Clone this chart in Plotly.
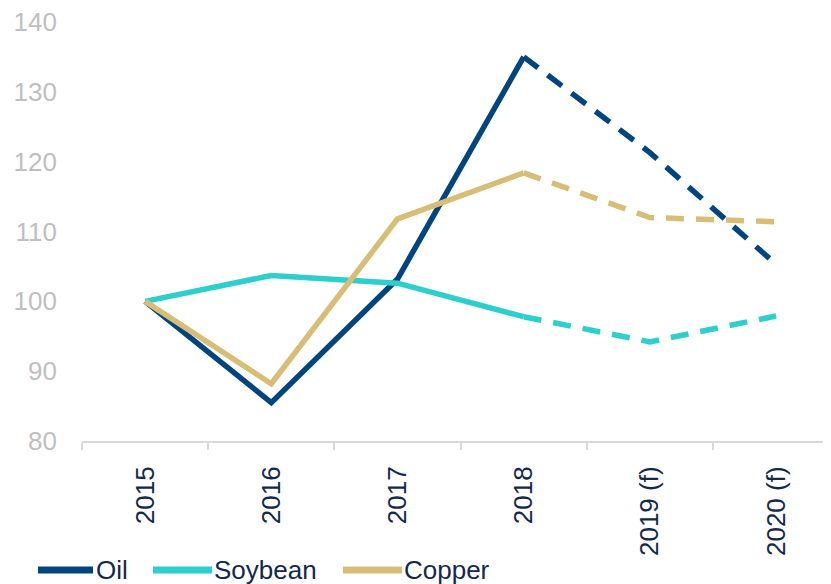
import plotly.graph_objects as go

categories = ["2015", "2016", "2017", "2018", "2019 (f)", "2020 (f)"]
oil = [100, 85.5, 103.2, 135, 121.3, 105.3]
soybean = [100, 103.7, 102.6, 97.8, 94.2, 97.9]
copper = [100, 88.2, 111.8, 118.4, 112, 111.4]

series_names = ["Oil", "Soybean", "Copper"]
series_values = [oil, soybean, copper]
series_colors = ["#00457f", "#2dcfcd", "#d8bd76"]
n_actual = 4  # 2015-2018 actual, rest forecast

fig = go.Figure()
for name, vals, color in zip(series_names, series_values, series_colors):
    fig.add_trace(go.Scatter(
        x=categories[:n_actual], y=vals[:n_actual], mode="lines", name=name,
        legendgroup=name, showlegend=False, line=dict(color=color, width=5.5),
    ))
    fig.add_trace(go.Scatter(
        x=categories[n_actual - 1:], y=vals[n_actual - 1:], mode="lines", name=name + " (f)",
        legendgroup=name, showlegend=False,
        line=dict(color=color, width=5.5, dash="18px,12px"),
    ))

# Legend drawn below the plot (long line keys as in the reference)
legend_line_x = [(-0.0587, 0.0147), (0.0948, 0.1736), (0.3485, 0.4272)]
legend_text_x = [0.0175, 0.1755, 0.4290]
legend_y = -0.308
for name, color, (x0, x1), tx in zip(series_names, series_colors, legend_line_x, legend_text_x):
    fig.add_shape(type="line", xref="paper", yref="paper", x0=x0, x1=x1, y0=legend_y, y1=legend_y,
                  line=dict(color=color, width=7))
    fig.add_annotation(xref="paper", yref="paper", x=tx, y=legend_y, text=name, showarrow=False,
                       xanchor="left", yanchor="middle", borderpad=0,
                       font=dict(size=26, color="#14284b"))

fig.update_layout(
    width=823, height=578,
    margin=dict(l=74, r=0, t=14, b=145),
    paper_bgcolor="white", plot_bgcolor="white",
    font=dict(family="Liberation Sans, Arial, sans-serif", size=26, color="#14284b"),
    showlegend=False,
    xaxis=dict(
        type="category", range=[-0.5, 5.435], automargin=False,
        showline=True, linecolor="#d9d9d9", linewidth=2,
        ticks="outside", tickson="boundaries", ticklen=7, tickcolor="#d9d9d9", tickwidth=2,
        tickangle=-90, tickfont=dict(size=26, color="#14284b"), ticklabelstandoff=13,
        showgrid=False, zeroline=False,
    ),
    yaxis=dict(
        range=[80, 140], dtick=10, tick0=80, automargin=False,
        showline=False, showgrid=False, zeroline=False, ticklabeloverflow="allow",
        tickfont=dict(size=26, color="#bfbfbf"), ticklabelstandoff=24,
    ),
)

fig.write_html("out.html")
